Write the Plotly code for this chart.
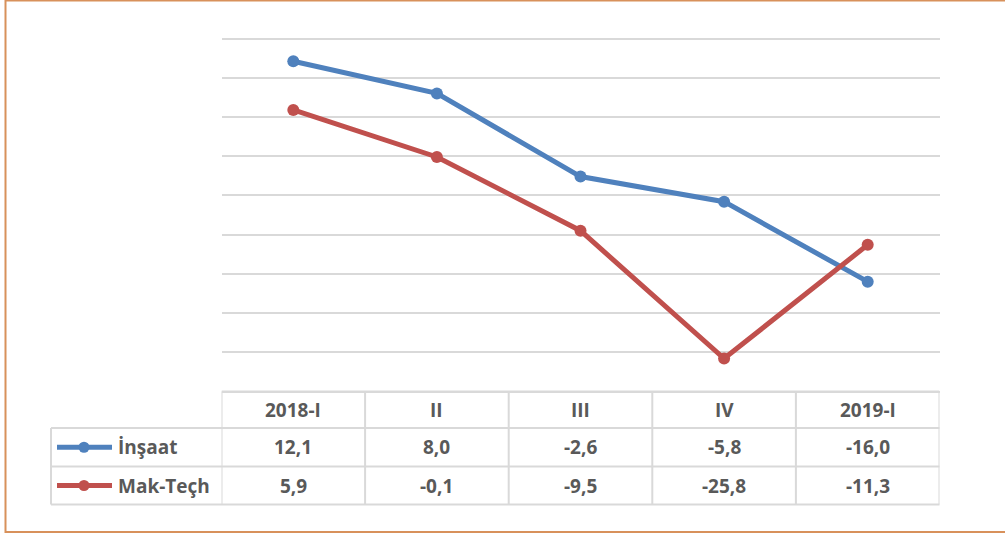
import plotly.graph_objects as go

categories = ["2018-I", "II", "III", "IV", "2019-I"]
insaat = [12.1, 8.0, -2.6, -5.8, -16.0]
mak_tech = [5.9, -0.1, -9.5, -25.8, -11.3]
series_names = ["İnşaat", "Mak-Teçh"]
series_colors = ["#4F81BD", "#C0504D"]

W, H = 1005, 535
def px(x):
    return x / W
def py(y):
    return 1 - y / H

x_idx = list(range(len(categories)))
plot_left, plot_right = 221.5, 939.5
pad = 0.6
y_lo, y_hi = -30 - pad, 15 + pad
unit = (391.5 - 38.5) / 45.0
plot_top = 38.5 - pad * unit
plot_bottom = 391.5 + pad * unit
row_lines = [391.5, 428.0, 466.5, 504.5]
label_left = 51.0
grid_col = "#D9D9D9"
text_col = "#595959"
FONT = "Open Sans"
FS = 19

fig = go.Figure()
for name, vals, col in zip(series_names, [insaat, mak_tech], series_colors):
    fig.add_trace(go.Scatter(
        x=x_idx, y=vals, mode="lines+markers", name=name,
        line=dict(color=col, width=5),
        marker=dict(color=col, size=12),
        showlegend=False, cliponaxis=False,
    ))

shapes = []
# outer border
shapes.append(dict(type="rect", xref="paper", yref="paper",
                   x0=px(5.5), x1=px(1012), y0=py(532), y1=py(0.5),
                   line=dict(color="#D8915B", width=2), fillcolor="rgba(0,0,0,0)"))
# table horizontal lines
shapes.append(dict(type="line", xref="x", yref="paper", x0=-0.5, x1=len(categories) - 0.5,
                   y0=py(row_lines[0]), y1=py(row_lines[0]), line=dict(color=grid_col, width=2)))
for yl in row_lines[1:]:
    shapes.append(dict(type="line", xref="paper", yref="paper", x0=px(label_left), x1=px(plot_right),
                       y0=py(yl), y1=py(yl), line=dict(color=grid_col, width=2)))
# table vertical lines
shapes.append(dict(type="line", xref="paper", yref="paper", x0=px(label_left), x1=px(label_left),
                   y0=py(row_lines[1]), y1=py(row_lines[3]), line=dict(color=grid_col, width=2)))
for i in range(len(categories) + 1):
    shapes.append(dict(type="line", xref="x", yref="paper", x0=i - 0.5, x1=i - 0.5,
                       y0=py(row_lines[0]), y1=py(row_lines[3]), line=dict(color=grid_col, width=2)))

annotations = []
def cell_y(r):
    return py((row_lines[r] + row_lines[r + 1]) / 2)

tfont = dict(family=FONT, size=FS, color=text_col, weight="bold")
for i, c in enumerate(categories):
    annotations.append(dict(x=i, y=cell_y(0), xref="x", yref="paper", text=c, showarrow=False,
                            font=tfont, xanchor="center", yanchor="middle"))
for r, vals in enumerate([insaat, mak_tech]):
    for i, v in enumerate(vals):
        annotations.append(dict(x=i, y=cell_y(r + 1), xref="x", yref="paper",
                                text=f"{v:.1f}".replace(".", ","), showarrow=False,
                                font=tfont, xanchor="center", yanchor="middle"))
    # legend key
    yk = cell_y(r + 1)
    shapes.append(dict(type="line", xref="paper", yref="paper", x0=px(57), x1=px(112),
                       y0=yk, y1=yk, line=dict(color=series_colors[r], width=5)))
    shapes.append(dict(type="circle", xref="paper", yref="paper",
                       x0=px(84 - 5.5), x1=px(84 + 5.5), y0=yk - 5.5 / H, y1=yk + 5.5 / H,
                       line=dict(color=series_colors[r], width=0), fillcolor=series_colors[r]))
    annotations.append(dict(x=px(116), y=yk, xref="paper", yref="paper", text=series_names[r],
                            showarrow=False, font=tfont, xanchor="left", yanchor="middle"))

fig.update_layout(
    width=W, height=H, margin=dict(l=0, r=0, t=0, b=0),
    paper_bgcolor="white", plot_bgcolor="white",
    xaxis=dict(domain=[px(plot_left), px(plot_right)], range=[-0.5, len(categories) - 0.5],
               showgrid=False, zeroline=False, showticklabels=False, showline=False),
    yaxis=dict(domain=[py(plot_bottom), py(plot_top)], range=[y_lo, y_hi], dtick=5, tick0=0,
               showgrid=True, gridcolor=grid_col, gridwidth=1.5, zeroline=False,
               showticklabels=False, showline=False),
    shapes=shapes, annotations=annotations,
)
fig.write_html("out.html", config={"displayModeBar": False},
               post_script="document.body.style.margin='0';document.body.style.overflow='hidden';")
